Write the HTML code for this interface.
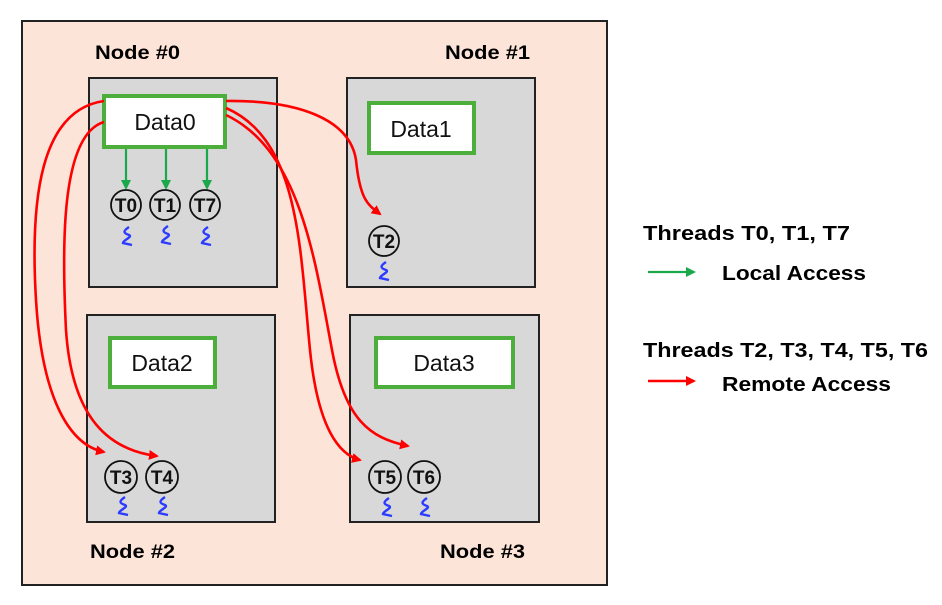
<!DOCTYPE html>
<html><head><meta charset="utf-8"><style>
body{margin:0;background:#fff;width:942px;height:600px;overflow:hidden}
svg text{font-family:"Liberation Sans",Arial,sans-serif}
</style></head><body>
<svg width="942" height="600" viewBox="0 0 942 600" xmlns="http://www.w3.org/2000/svg">
<defs>
<marker id="ar" markerWidth="10" markerHeight="10" refX="8" refY="5" orient="auto" markerUnits="userSpaceOnUse"><path d="M0,0 L10,5 L0,10 z" fill="#ff0000"/></marker>
<marker id="ag" markerWidth="10" markerHeight="10" refX="8" refY="5" orient="auto" markerUnits="userSpaceOnUse"><path d="M0,0 L10,5 L0,10 z" fill="#1aa84a"/></marker>
<path id="sq" d="M2,0 C-4,4 -4,6 2,8 C6,10 -4,13 -4,16 L5,18" fill="none" stroke="#2b3bff" stroke-width="2.4"/>
</defs>
<rect x="22" y="21" width="585" height="564" fill="#fde4d8" stroke="#222" stroke-width="2"/>
<g fill="#d8d8d8" stroke="#222" stroke-width="2">
<rect x="89" y="78" width="188" height="209"/>
<rect x="347" y="78" width="188" height="209"/>
<rect x="87" y="315" width="188" height="207"/>
<rect x="350" y="315" width="189" height="207"/>
</g>
<g font-weight="bold" font-size="19" fill="#000">
<text x="95" y="59" textLength="85" lengthAdjust="spacingAndGlyphs">Node #0</text>
<text x="445" y="59" textLength="85" lengthAdjust="spacingAndGlyphs">Node #1</text>
<text x="90" y="558" textLength="85" lengthAdjust="spacingAndGlyphs">Node #2</text>
<text x="440" y="558" textLength="85" lengthAdjust="spacingAndGlyphs">Node #3</text>
</g>
<g fill="#fff" stroke="#4caf3c" stroke-width="4">
<rect x="104" y="96" width="121" height="51"/>
<rect x="369" y="103" width="105" height="50"/>
<rect x="110" y="338" width="105" height="49"/>
<rect x="376" y="338" width="137" height="49"/>
</g>
<g font-size="23" fill="#111" text-anchor="middle">
<text x="165" y="130">Data0</text>
<text x="421" y="137">Data1</text>
<text x="162" y="371">Data2</text>
<text x="444" y="371">Data3</text>
</g>
<g stroke="#1aa84a" stroke-width="2.2" marker-end="url(#ag)">
<line x1="126" y1="149" x2="126" y2="188"/>
<line x1="166" y1="149" x2="166" y2="188"/>
<line x1="207" y1="149" x2="207" y2="188"/>
</g>
<g fill="none" stroke="#ff0000" stroke-width="2.6" marker-end="url(#ar)">
<path d="M104,101 C40,110 30,200 36,300 C42,400 70,445 104,452"/>
<path d="M104,122 C60,135 62,250 66,330 C72,420 110,450 157,456"/>
<path d="M226,101 C300,100 350,120 356,160 C360,200 368,205 380,214"/>
<path d="M226,108 C300,140 300,250 310,350 C318,430 340,455 360,460"/>
<path d="M226,115 C300,150 315,260 332,350 C345,420 370,438 408,446"/>
</g>
<g fill="none" stroke="#111" stroke-width="1.8">
<circle cx="126" cy="205" r="15"/><circle cx="165" cy="205" r="15"/><circle cx="205" cy="205" r="15"/>
<circle cx="384" cy="241" r="15"/>
<circle cx="121" cy="477" r="16"/><circle cx="162" cy="477" r="16"/>
<circle cx="385" cy="477" r="16"/><circle cx="424" cy="477" r="16"/>
</g>
<g font-weight="bold" font-size="19" fill="#111" text-anchor="middle">
<text x="126" y="212">T0</text><text x="165" y="212">T1</text><text x="205" y="212">T7</text>
<text x="384" y="248">T2</text>
<text x="121" y="484">T3</text><text x="162" y="484">T4</text>
<text x="385" y="484">T5</text><text x="424" y="484">T6</text>
</g>
<use href="#sq" x="127" y="227"/><use href="#sq" x="166" y="226"/><use href="#sq" x="206" y="227"/>
<use href="#sq" x="384" y="262"/>
<use href="#sq" x="123" y="497"/><use href="#sq" x="163" y="497"/>
<use href="#sq" x="387" y="498"/><use href="#sq" x="425" y="498"/>
<g font-weight="bold" font-size="20" fill="#000">
<text x="643" y="240" textLength="207" lengthAdjust="spacingAndGlyphs">Threads T0, T1, T7</text>
<text x="722" y="280" textLength="144" lengthAdjust="spacingAndGlyphs">Local Access</text>
<text x="643" y="357" textLength="285" lengthAdjust="spacingAndGlyphs">Threads T2, T3, T4, T5, T6</text>
<text x="722" y="391" textLength="169" lengthAdjust="spacingAndGlyphs">Remote Access</text>
</g>
<line x1="648" y1="272" x2="694" y2="272" stroke="#1aa84a" stroke-width="2.2" marker-end="url(#ag)"/>
<line x1="648" y1="381" x2="694" y2="381" stroke="#ff0000" stroke-width="2.6" marker-end="url(#ar)"/>
</svg>
</body></html>
